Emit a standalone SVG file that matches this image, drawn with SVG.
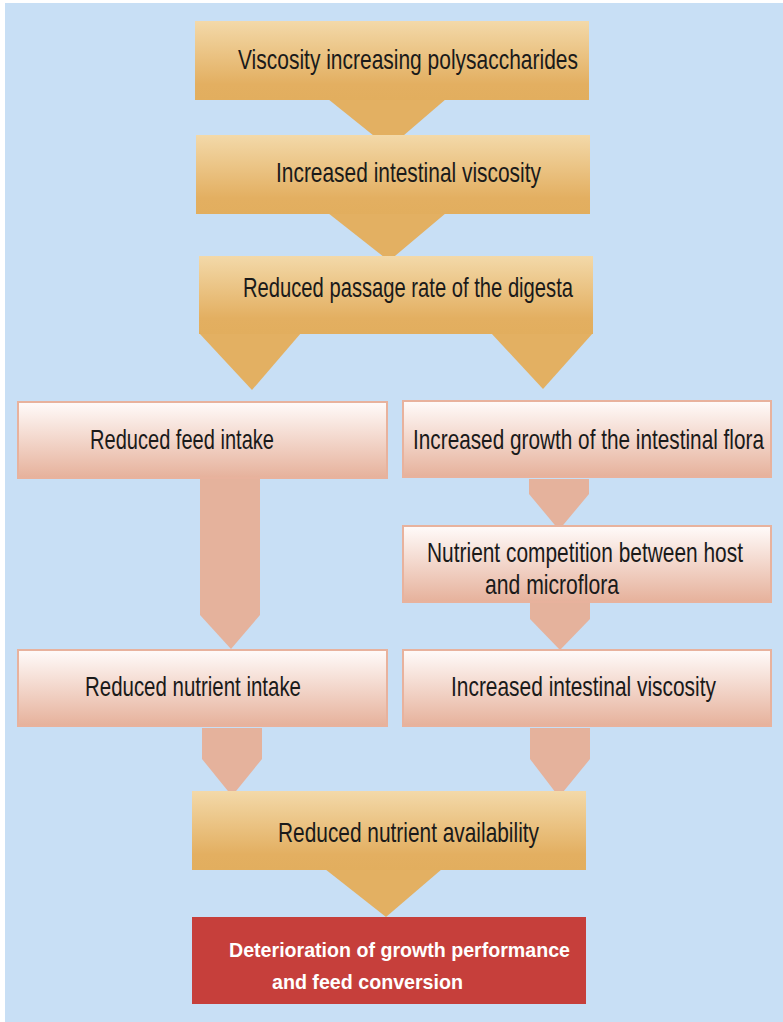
<svg xmlns="http://www.w3.org/2000/svg" width="783" height="1022" viewBox="0 0 783 1022">
<defs>
<linearGradient id="gold" x1="0" y1="0" x2="0" y2="1">
<stop offset="0" stop-color="#f3d9a9"/>
<stop offset="0.8" stop-color="#e3af61"/>
<stop offset="1" stop-color="#e2ae5e"/>
</linearGradient>
<linearGradient id="pink" x1="0" y1="0" x2="0" y2="1">
<stop offset="0" stop-color="#fffbfa"/>
<stop offset="1" stop-color="#e6b19b"/>
</linearGradient>
<style>
.gold{fill:url(#gold);}
.pink{fill:url(#pink);stroke:#e8b29d;stroke-width:2;}
.red{fill:#c63f3b;}
.ga{fill:#e3b062;}
.pa{fill:#e5b29c;}
.t{font-family:"Liberation Sans",Arial,sans-serif;font-size:18px;fill:#1a1a1a;}
.b{font-family:"Liberation Sans",Arial,sans-serif;font-size:21px;font-weight:bold;fill:#ffffff;}
</style>
</defs>
<rect x="0" y="0" width="783" height="1022" fill="#ffffff"/>
<rect x="5" y="3" width="778" height="1019" fill="#c8dff5"/>
<g id="connectors">
<polygon class="ga" points="328,99 446,99 389,148"/>
<polygon class="ga" points="328,213 446,213 389,261"/>
<polygon class="ga" points="199,333 301,333 252,390"/>
<polygon class="ga" points="491,333 593,333 543,389"/>
<polygon class="pa" points="200,479 260,479 260,615 231,649 200,615"/>
<polygon class="pa" points="529,479 589,479 589,494 559,530 529,494"/>
<polygon class="pa" points="530,603 590,603 590,619 560,650 530,619"/>
<polygon class="pa" points="202,728 262,728 262,759 232,796 202,759"/>
<polygon class="pa" points="530,728 590,728 590,759 559,797 530,759"/>
<polygon class="ga" points="325,869 442,869 386,917"/>
</g>
<g id="n1">
<rect class="gold" x="195" y="21" width="394" height="79"/>
<text class="t" transform="translate(238,69) scale(1,1.5)" textLength="340" lengthAdjust="spacingAndGlyphs">Viscosity increasing polysaccharides</text>
</g>
<g id="n2">
<rect class="gold" x="196" y="135" width="394" height="79"/>
<text class="t" transform="translate(276,182) scale(1,1.5)" textLength="265" lengthAdjust="spacingAndGlyphs">Increased intestinal viscosity</text>
</g>
<g id="n3">
<rect class="gold" x="199" y="256" width="394" height="78"/>
<text class="t" transform="translate(243,297) scale(1,1.5)" textLength="330" lengthAdjust="spacingAndGlyphs">Reduced passage rate of the digesta</text>
</g>
<g id="n4">
<rect class="pink" x="18" y="402" width="369" height="76"/>
<text class="t" transform="translate(90,449) scale(1,1.5)" textLength="184" lengthAdjust="spacingAndGlyphs">Reduced feed intake</text>
</g>
<g id="n5">
<rect class="pink" x="403" y="401" width="368" height="76"/>
<text class="t" transform="translate(413,449) scale(1,1.5)" textLength="351" lengthAdjust="spacingAndGlyphs">Increased growth of the intestinal flora</text>
</g>
<g id="n6">
<rect class="pink" x="403" y="526" width="368" height="76"/>
<text class="t" transform="translate(427,562) scale(1,1.5)" textLength="316" lengthAdjust="spacingAndGlyphs">Nutrient competition between host</text>
<text class="t" transform="translate(485,594) scale(1,1.5)" textLength="134" lengthAdjust="spacingAndGlyphs">and microflora</text>
</g>
<g id="n7">
<rect class="pink" x="18" y="650" width="369" height="76"/>
<text class="t" transform="translate(85,696) scale(1,1.5)" textLength="216" lengthAdjust="spacingAndGlyphs">Reduced nutrient intake</text>
</g>
<g id="n8">
<rect class="pink" x="403" y="650" width="368" height="76"/>
<text class="t" transform="translate(451,696) scale(1,1.5)" textLength="265" lengthAdjust="spacingAndGlyphs">Increased intestinal viscosity</text>
</g>
<g id="n9">
<rect class="gold" x="192" y="791" width="394" height="79"/>
<text class="t" transform="translate(278,842) scale(1,1.5)" textLength="261" lengthAdjust="spacingAndGlyphs">Reduced nutrient availability</text>
</g>
<g id="n10">
<rect class="red" x="192" y="917" width="394" height="87"/>
<text class="b" x="229" y="957" textLength="341" lengthAdjust="spacingAndGlyphs">Deterioration of growth performance</text>
<text class="b" x="272" y="989" textLength="191" lengthAdjust="spacingAndGlyphs">and feed conversion</text>
</g>
</svg>
